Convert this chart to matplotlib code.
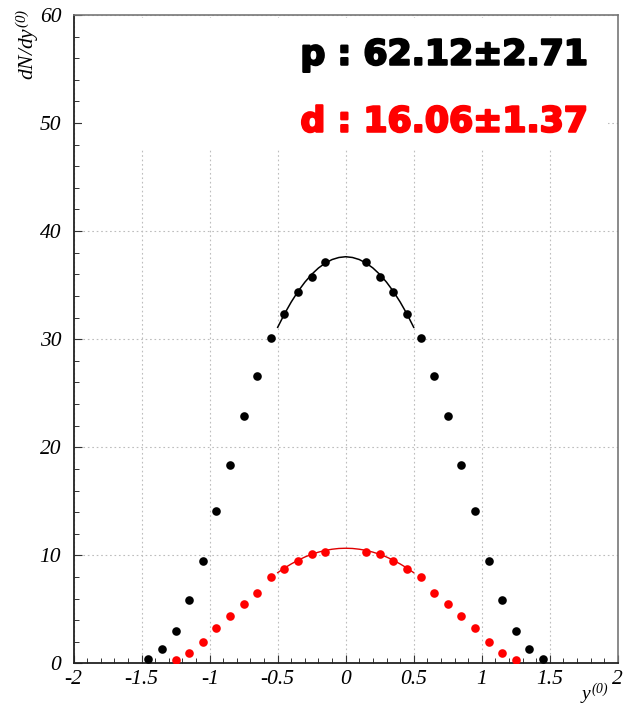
import matplotlib
matplotlib.use('Agg')
import matplotlib.pyplot as plt
from matplotlib.patches import Rectangle
from matplotlib.ticker import MultipleLocator, FuncFormatter
import matplotlib.patheffects as pe

plt.rcParams['mathtext.fontset'] = 'custom'
plt.rcParams['mathtext.rm'] = 'Liberation Serif:italic'
plt.rcParams['mathtext.it'] = 'Liberation Serif:italic'
plt.rcParams['mathtext.default'] = 'it'

# proton points (black)
y_p_x = [-1.45, -1.35, -1.25, -1.15, -1.05, -0.95, -0.85, -0.75, -0.65, -0.55, -0.45, -0.35, -0.25, -0.15,
         0.15, 0.25, 0.35, 0.45, 0.55, 0.65, 0.75, 0.85, 0.95, 1.05, 1.15, 1.25, 1.35, 1.45]
dndy_p = [0.42, 1.37, 3.03, 5.85, 9.5, 14.1, 18.4, 22.9, 26.6, 30.1, 32.3, 34.4, 35.75, 37.1,
          37.1, 35.75, 34.4, 32.3, 30.1, 26.6, 22.9, 18.4, 14.1, 9.5, 5.85, 3.03, 1.37, 0.42]

# deuteron points (red)
y_d_x = [-1.25, -1.15, -1.05, -0.95, -0.85, -0.75, -0.65, -0.55, -0.45, -0.35, -0.25, -0.15,
         0.15, 0.25, 0.35, 0.45, 0.55, 0.65, 0.75, 0.85, 0.95, 1.05, 1.15, 1.25]
dndy_d = [0.3, 0.97, 1.96, 3.31, 4.36, 5.47, 6.52, 8.0, 8.74, 9.51, 10.16, 10.34,
          10.34, 10.16, 9.51, 8.74, 8.0, 6.52, 5.47, 4.36, 3.31, 1.96, 0.97, 0.3]

# fit curves
fit_x = [-0.5, -0.45, -0.4, -0.35, -0.3, -0.25, -0.2, -0.15, -0.1, -0.05, 0.0,
         0.05, 0.1, 0.15, 0.2, 0.25, 0.3, 0.35, 0.4, 0.45, 0.5]
fit_p = [31.1, 32.34, 33.45, 34.43, 35.28, 36.0, 36.59, 37.04, 37.37, 37.56, 37.63,
         37.56, 37.37, 37.04, 36.59, 36.0, 35.28, 34.43, 33.45, 32.34, 31.1]
fit_d = [8.4, 8.83, 9.21, 9.55, 9.85, 10.10, 10.30, 10.46, 10.57, 10.64, 10.66,
         10.64, 10.57, 10.46, 10.30, 10.10, 9.85, 9.55, 9.21, 8.83, 8.4]

label_p = 'p : 62.12\u00b12.71'
label_d = 'd : 16.06\u00b11.37'

fig = plt.figure(figsize=(6.24, 7.08), dpi=100)
ax = fig.add_axes([0.118, 0.0629, 0.872, 0.916])

ax.set_xlim(-2, 2)
ax.set_ylim(0, 60)
ax.xaxis.set_major_locator(MultipleLocator(0.5))
ax.xaxis.set_minor_locator(MultipleLocator(0.1))
ax.yaxis.set_major_locator(MultipleLocator(10))
ax.yaxis.set_minor_locator(MultipleLocator(2))
ax.xaxis.set_major_formatter(FuncFormatter(lambda v, p: '%g' % v))
ax.tick_params(which='both', direction='in', color='#333333')
ax.tick_params(which='major', length=6, width=0.8)
ax.tick_params(which='minor', length=3.5, width=0.7)
ax.tick_params(axis='y', which='major', pad=9)
ax.tick_params(axis='x', which='major', pad=5)
ax.grid(True, which='major', linestyle=(0, (1.5, 2.5)), color='#bdbdbd', linewidth=0.8)

for lab in ax.get_xticklabels() + ax.get_yticklabels():
    lab.set_fontfamily('Liberation Serif')
    lab.set_fontstyle('italic')
    lab.set_fontsize(15.5)

for side in ['left', 'bottom']:
    ax.spines[side].set_color('#222222')
    ax.spines[side].set_linewidth(1.3)
for side in ['top', 'right']:
    ax.spines[side].set_color('#777777')
    ax.spines[side].set_linewidth(1.2)

# white box behind the labels
ax.add_patch(Rectangle((0.015, 0.792), 0.967, 0.204, transform=ax.transAxes,
                       facecolor='white', edgecolor='none', zorder=2))

ax.plot(fit_x, fit_p, color='black', linewidth=1.1, zorder=3)
ax.plot(fit_x, fit_d, color='#e00000', linewidth=1.0, zorder=3)
ax.plot(y_p_x, dndy_p, 'o', color='black', markersize=6.2, markeredgewidth=0, zorder=4)
ax.plot(y_d_x, dndy_d, 'o', color='#ff0000', markersize=6.2, markeredgewidth=0, zorder=4)

ax.text(1.78, 55.4, label_p, ha='right', va='baseline', fontfamily='DejaVu Sans',
        fontweight='bold', fontsize=25, color='black', zorder=5,
        path_effects=[pe.withStroke(linewidth=1.6, foreground='black')])
ax.text(1.78, 49.2, label_d, ha='right', va='baseline', fontfamily='DejaVu Sans',
        fontweight='bold', fontsize=25, color='#ff0000', zorder=5,
        path_effects=[pe.withStroke(linewidth=1.6, foreground='#ff0000')])

fig.text(0.045, 0.988, r'$dN/dy^{(0)}$', rotation=90, ha='center', va='top', fontsize=15.5)
fig.text(0.975, 0.011, r'$y^{(0)}$', ha='right', va='baseline', fontsize=14)

fig.savefig('out.png', dpi=100)
